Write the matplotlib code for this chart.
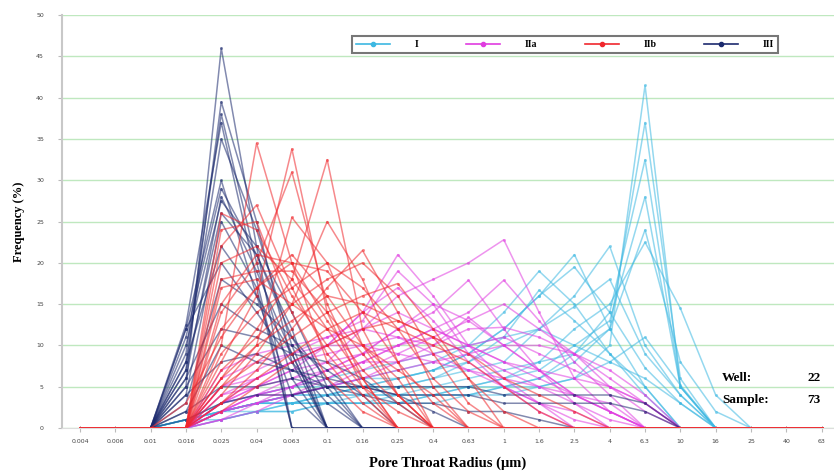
import matplotlib
matplotlib.use("Agg")
import matplotlib.pyplot as plt
from matplotlib.lines import Line2D

radius_labels = ['0.004', '0.006', '0.01', '0.016', '0.025', '0.04', '0.063', '0.1', '0.16', '0.25', '0.4',
                 '0.63', '1', '1.6', '2.5', '4', '6.3', '10', '16', '25', '40', '63']

# frequency (%) per pore throat radius class, one row per sample
type_I = [
    [0, 0, 0, 1, 2, 2, 3, 3, 3, 3, 3, 4, 4, 5, 6, 10, 41.5, 5, 0, 0, 0, 0],
    [0, 0, 0, 1, 1, 2, 2, 3, 3, 3, 4, 4, 5, 6, 8, 12, 37, 6, 0, 0, 0, 0],
    [0, 0, 0, 0, 2, 3, 3, 3, 4, 4, 4, 5, 5, 6, 9, 14, 32.5, 5, 0, 0, 0, 0],
    [0, 0, 0, 1, 2, 3, 3, 4, 4, 4, 5, 5, 6, 7, 10, 13, 28, 5, 0, 0, 0, 0],
    [0, 0, 0, 0, 1, 2, 3, 3, 3, 4, 4, 5, 6, 8, 12, 15, 22.5, 14.5, 4, 0, 0, 0],
    [0, 0, 0, 1, 2, 3, 4, 4, 5, 5, 6, 7, 8, 12, 16, 22, 10, 4, 0, 0, 0, 0],
    [0, 0, 0, 0, 2, 3, 3, 4, 5, 6, 7, 9, 12, 16, 21, 12, 5, 0, 0, 0, 0, 0],
    [0, 0, 0, 1, 2, 3, 4, 5, 6, 7, 8, 10, 14, 19, 15, 9, 4, 0, 0, 0, 0, 0],
    [0, 0, 0, 0, 3, 4, 5, 5, 6, 6, 7, 9, 12, 16, 19.5, 14, 7.3, 3, 0, 0, 0, 0],
    [0, 0, 0, 1, 2, 3, 4, 5, 5, 6, 7, 8, 10, 12, 14.7, 18, 9, 4, 0, 0, 0, 0],
    [0, 0, 0, 0, 2, 3, 4, 4, 5, 5, 6, 8, 11, 16.7, 13, 9, 5, 0, 0, 0, 0, 0],
    [0, 0, 0, 1, 3, 4, 5, 6, 7, 8, 9, 10, 11, 12, 10, 8, 6, 3, 0, 0, 0, 0],
    [0, 0, 0, 0, 1, 2, 2, 3, 3, 3, 4, 4, 5, 5, 6, 8, 11, 5.2, 0, 0, 0, 0],
    [0, 0, 0, 0, 2, 3, 3, 4, 4, 5, 5, 6, 7, 8, 9, 12, 24, 8, 2, 0, 0, 0],
]

type_IIa = [
    [0, 0, 0, 0, 2, 4, 6, 8, 12, 16, 18, 20, 22.8, 14, 6, 2, 0, 0, 0, 0, 0, 0],
    [0, 0, 0, 0, 3, 5, 7, 10, 14, 21, 16, 10, 6, 3, 0, 0, 0, 0, 0, 0, 0, 0],
    [0, 0, 0, 0, 2, 4, 5, 7, 9, 12, 14, 17.9, 12, 7, 3, 0, 0, 0, 0, 0, 0, 0],
    [0, 0, 0, 0, 1, 3, 4, 6, 8, 10, 12, 14, 17.9, 13, 8, 4, 0, 0, 0, 0, 0, 0],
    [0, 0, 0, 0, 3, 6, 8, 10, 12, 14, 12, 10, 8, 6, 4, 2, 0, 0, 0, 0, 0, 0],
    [0, 0, 0, 0, 4, 6, 8, 9, 10, 11, 10, 13.4, 10, 7, 4, 2, 0, 0, 0, 0, 0, 0],
    [0, 0, 0, 0, 5, 7, 9, 11, 13, 19, 15, 9, 5, 2, 0, 0, 0, 0, 0, 0, 0, 0],
    [0, 0, 0, 0, 2, 3, 4, 5, 6, 8, 10, 12, 12.2, 11, 9, 6, 3, 0, 0, 0, 0, 0],
    [0, 0, 0, 0, 6, 8, 9, 10, 10, 9, 8, 7, 6, 5, 4, 3, 0, 0, 0, 0, 0, 0],
    [0, 0, 0, 0, 3, 5, 7, 8, 9, 10, 11, 9, 7, 5, 3, 1, 0, 0, 0, 0, 0, 0],
    [0, 0, 0, 0, 2, 4, 5, 7, 9, 12, 15, 13, 10, 7, 4, 2, 0, 0, 0, 0, 0, 0],
    [0, 0, 0, 0, 1, 2, 4, 5, 7, 9, 11, 13, 15, 12, 9, 5, 2, 0, 0, 0, 0, 0],
    [0, 0, 0, 0, 4, 5, 6, 7, 8, 8, 9, 10, 11, 9, 7, 5, 3, 0, 0, 0, 0, 0],
    [0, 0, 0, 0, 3, 4, 4, 5, 6, 7, 8, 9, 10, 10, 9, 7, 4, 0, 0, 0, 0, 0],
    [0, 0, 0, 0, 7, 9, 10, 11, 12, 11, 9, 7, 5, 3, 2, 0, 0, 0, 0, 0, 0, 0],
    [0, 0, 0, 0, 2, 3, 5, 6, 8, 10, 12, 10, 8, 7, 6, 5, 3, 0, 0, 0, 0, 0],
    [0, 0, 0, 0, 5, 6, 8, 10, 14, 17, 13, 8, 5, 3, 1, 0, 0, 0, 0, 0, 0, 0],
]

type_IIb = [
    [0, 0, 0, 0, 10, 34.5, 20, 8, 3, 0, 0, 0, 0, 0, 0, 0, 0, 0, 0, 0, 0, 0],
    [0, 0, 0, 0, 8, 16, 33.8, 14, 5, 2, 0, 0, 0, 0, 0, 0, 0, 0, 0, 0, 0, 0],
    [0, 0, 0, 0, 6, 12, 18, 32.5, 12, 4, 0, 0, 0, 0, 0, 0, 0, 0, 0, 0, 0, 0],
    [0, 0, 0, 0, 14, 20, 31, 15, 6, 0, 0, 0, 0, 0, 0, 0, 0, 0, 0, 0, 0, 0],
    [0, 0, 0, 0, 22, 27, 17, 9, 4, 0, 0, 0, 0, 0, 0, 0, 0, 0, 0, 0, 0, 0],
    [0, 0, 0, 0, 5, 10, 25.5, 20, 10, 4, 0, 0, 0, 0, 0, 0, 0, 0, 0, 0, 0, 0],
    [0, 0, 0, 0, 4, 9, 15, 25, 18, 8, 0, 0, 0, 0, 0, 0, 0, 0, 0, 0, 0, 0],
    [0, 0, 0, 0, 3, 7, 12, 17, 21.5, 14, 5, 0, 0, 0, 0, 0, 0, 0, 0, 0, 0, 0],
    [0, 0, 0, 0, 24, 25, 14, 6, 2, 0, 0, 0, 0, 0, 0, 0, 0, 0, 0, 0, 0, 0],
    [0, 0, 0, 0, 20, 22, 18, 12, 6, 0, 0, 0, 0, 0, 0, 0, 0, 0, 0, 0, 0, 0],
    [0, 0, 0, 0, 18, 19, 19, 14, 9, 4, 0, 0, 0, 0, 0, 0, 0, 0, 0, 0, 0, 0],
    [0, 0, 0, 0, 12, 17, 20, 19, 14, 8, 3, 0, 0, 0, 0, 0, 0, 0, 0, 0, 0, 0],
    [0, 0, 0, 0, 9, 14, 17, 20, 17, 12, 6, 2, 0, 0, 0, 0, 0, 0, 0, 0, 0, 0],
    [0, 0, 0, 0, 7, 11, 15, 18, 20, 16, 9, 3, 0, 0, 0, 0, 0, 0, 0, 0, 0, 0],
    [0, 0, 0, 0, 15, 21, 20, 13, 7, 3, 0, 0, 0, 0, 0, 0, 0, 0, 0, 0, 0, 0],
    [0, 0, 0, 0, 26, 24, 16, 10, 5, 0, 0, 0, 0, 0, 0, 0, 0, 0, 0, 0, 0, 0],
    [0, 0, 0, 0, 6, 10, 13, 16, 15, 13, 11, 6, 2, 0, 0, 0, 0, 0, 0, 0, 0, 0],
    [0, 0, 0, 3, 11, 17, 21, 16, 10, 6, 0, 0, 0, 0, 0, 0, 0, 0, 0, 0, 0, 0],
    [0, 0, 0, 0, 5, 8, 11, 14, 16, 17.5, 12, 6, 0, 0, 0, 0, 0, 0, 0, 0, 0, 0],
    [0, 0, 0, 0, 3, 6, 9, 12, 14, 12, 10, 8, 5, 2, 0, 0, 0, 0, 0, 0, 0, 0],
    [0, 0, 0, 0, 17, 18, 15, 12, 10, 7, 4, 0, 0, 0, 0, 0, 0, 0, 0, 0, 0, 0],
    [0, 0, 0, 0, 2, 5, 8, 10, 12, 13, 11, 9, 6, 4, 2, 0, 0, 0, 0, 0, 0, 0],
]

type_III = [
    [0, 0, 0, 5, 46, 22, 0, 0, 0, 0, 0, 0, 0, 0, 0, 0, 0, 0, 0, 0, 0, 0],
    [0, 0, 0, 7, 39.5, 25, 8, 0, 0, 0, 0, 0, 0, 0, 0, 0, 0, 0, 0, 0, 0, 0],
    [0, 0, 0, 9, 38, 20, 6, 0, 0, 0, 0, 0, 0, 0, 0, 0, 0, 0, 0, 0, 0, 0],
    [0, 0, 0, 12.5, 37, 18, 0, 0, 0, 0, 0, 0, 0, 0, 0, 0, 0, 0, 0, 0, 0, 0],
    [0, 0, 0, 8, 35, 24, 10, 0, 0, 0, 0, 0, 0, 0, 0, 0, 0, 0, 0, 0, 0, 0],
    [0, 0, 0, 11, 29, 21, 12, 0, 0, 0, 0, 0, 0, 0, 0, 0, 0, 0, 0, 0, 0, 0],
    [0, 0, 0, 6, 28, 19, 9, 0, 0, 0, 0, 0, 0, 0, 0, 0, 0, 0, 0, 0, 0, 0],
    [0, 0, 0, 10, 27.5, 22, 14, 5, 0, 0, 0, 0, 0, 0, 0, 0, 0, 0, 0, 0, 0, 0],
    [0, 0, 0, 4, 25, 17, 0, 0, 0, 0, 0, 0, 0, 0, 0, 0, 0, 0, 0, 0, 0, 0],
    [0, 0, 0, 8, 22, 16, 9, 0, 0, 0, 0, 0, 0, 0, 0, 0, 0, 0, 0, 0, 0, 0],
    [0, 0, 0, 12, 20, 14, 8, 3, 0, 0, 0, 0, 0, 0, 0, 0, 0, 0, 0, 0, 0, 0],
    [0, 0, 0, 3, 18, 15, 11, 6, 0, 0, 0, 0, 0, 0, 0, 0, 0, 0, 0, 0, 0, 0],
    [0, 0, 0, 6, 15, 12, 10, 7, 4, 0, 0, 0, 0, 0, 0, 0, 0, 0, 0, 0, 0, 0],
    [0, 0, 0, 5, 12, 11, 9, 8, 6, 3, 0, 0, 0, 0, 0, 0, 0, 0, 0, 0, 0, 0],
    [0, 0, 0, 2, 10, 8, 7, 6, 5, 4, 2, 0, 0, 0, 0, 0, 0, 0, 0, 0, 0, 0],
    [0, 0, 0, 2, 5, 5, 6, 5, 5, 5, 5, 5, 4, 4, 4, 4, 3, 0, 0, 0, 0, 0],
    [0, 0, 0, 1, 3, 4, 4, 5, 5, 4, 4, 4, 3, 3, 3, 3, 2, 0, 0, 0, 0, 0],
    [0, 0, 0, 4, 8, 9, 7, 5, 4, 3, 3, 2, 2, 1, 0, 0, 0, 0, 0, 0, 0, 0],
    [0, 0, 0, 12, 30, 16, 4, 0, 0, 0, 0, 0, 0, 0, 0, 0, 0, 0, 0, 0, 0, 0],
    [0, 0, 0, 7, 26, 21, 11, 4, 0, 0, 0, 0, 0, 0, 0, 0, 0, 0, 0, 0, 0, 0],
]

groups = [('I', type_I, '#3db8e2'), ('IIa', type_IIa, '#e03ce0'),
          ('IIb', type_IIb, '#f0282d'), ('III', type_III, '#1c2a6e')]
draw_order = [0, 1, 3, 2]  # red ends up on top along the zero line, as in the source

serif = 'Liberation Serif'

fig = plt.figure(figsize=(8.34, 4.74), dpi=100)
ax = fig.add_axes([0.0743, 0.097, 0.9257, 0.871])

x = list(range(len(radius_labels)))
for k in draw_order:
    name, rows, col = groups[k]
    for r in rows:
        ax.plot(x, r, color=col, lw=1.1, alpha=0.55, marker='o', ms=2.2, mew=0)

ax.set_xlim(-0.51, 21.35)
ax.set_ylim(0, 50)
ax.set_yticks(range(0, 51, 5))
ax.set_xticks(x)
ax.set_xticklabels(radius_labels)
ax.tick_params(axis='both', labelsize=4.5, labelcolor='#444444', color='#bbbbbb', length=3)
ax.tick_params(axis='y', pad=10)
ax.tick_params(axis='x', pad=5)
ax.yaxis.grid(True, color='#bfe8bf', lw=1.0)
ax.set_axisbelow(True)
for s in ['top', 'right']:
    ax.spines[s].set_visible(False)
ax.spines['left'].set_color('#c8c8c8')
ax.spines['left'].set_linewidth(1.5)
ax.spines['bottom'].set_color('#dddddd')

ax.set_ylabel('Frequency (%)', fontsize=9, fontweight='bold', family=serif, labelpad=8)
ax.set_xlabel('Pore Throat Radius (μm)', fontsize=10.5, fontweight='bold', family=serif, labelpad=9)

handles = [Line2D([0], [0], color=c, lw=1.2, marker='o', ms=3) for _, _, c in groups]
leg = ax.legend(handles, [g[0] for g in groups], ncol=4, loc='lower left',
                bbox_to_anchor=(0.376, 0.908, 0.551, 0.056), mode='expand',
                prop={'family': serif, 'weight': 'bold', 'size': 7},
                handlelength=3.5, handletextpad=2.5, fancybox=False, borderaxespad=0)
leg.get_frame().set_edgecolor('#555555')
leg.get_frame().set_linewidth(1.5)

fig.text(0.866, 0.2025, 'Well:', fontsize=9.5, fontweight='bold', family=serif, va='center')
fig.text(0.984, 0.2025, '22', fontsize=9.5, fontweight='bold', family=serif, va='center', ha='right')
fig.text(0.866, 0.156, 'Sample:', fontsize=9.5, fontweight='bold', family=serif, va='center')
fig.text(0.984, 0.156, '73', fontsize=9.5, fontweight='bold', family=serif, va='center', ha='right')

fig.savefig('out.png', dpi=100)
